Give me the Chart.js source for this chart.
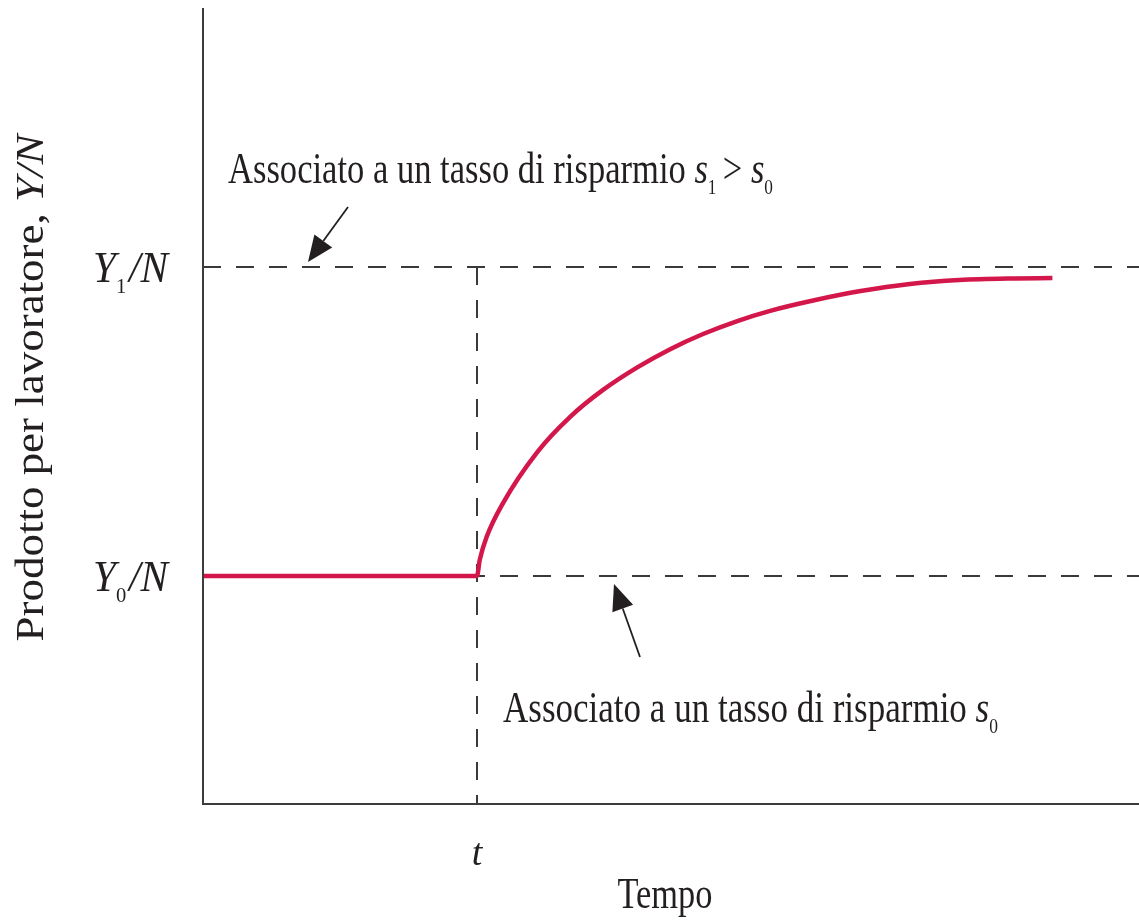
<!DOCTYPE html>
<html>
<head>
<meta charset="utf-8">
<script src="https://cdn.jsdelivr.net/npm/chart.js@4.4.1/dist/chart.umd.min.js"></script>
<style>
  html, body { margin: 0; padding: 0; background: #fff; }
  #wrap { width: 1139px; height: 920px; position: relative; }
</style>
</head>
<body>
<div id="wrap"><canvas id="c"></canvas></div>
<script>
// time axis, the saving rate rises at t = 10
const timeRange = [0, 34.16];
const outputRange = [-0.738, 1.838];
const tShift = 10;
const levelY0 = 0;
const levelY1 = 1;

// output per worker: flat at Y0/N, then converging towards Y1/N
const pathTime = [0, 10, 10.1, 10.35, 10.95, 12.2, 13.4, 14.6, 15.85, 17.05, 18.25, 19.5, 20.7, 22.35, 24, 25.8, 27.6, 29.45, 31];
const pathOutput = [0, 0, 0.052, 0.126, 0.236, 0.401, 0.515, 0.602, 0.675, 0.734, 0.783, 0.825, 0.858, 0.893, 0.922, 0.945, 0.958, 0.963, 0.964];

const levelLabels = [
  { value: levelY1, sub: "1" },
  { value: levelY0, sub: "0" },
];

const INK = "#231f20";
const DASH = "#3a3a3a";
const RED = "#d3174b";
const SERIF = "'Liberation Serif', 'DejaVu Serif', serif";

const curve = pathTime.map((x, i) => ({ x, y: pathOutput[i] }));

// draws a run of text pieces (with optional subscripts); width squeezes it to a set length
function drawRuns(ctx, runs, x, y, align, width) {
  ctx.save();
  let total = 0;
  runs.forEach(r => { ctx.font = r.font; total += ctx.measureText(r.text).width + (r.gap || 0); });
  const sq = width ? width / total : 1;
  ctx.translate(x, y);
  ctx.scale(sq, 1);
  let cx = align === "right" ? -total : align === "center" ? -total / 2 : 0;
  ctx.textBaseline = "alphabetic";
  ctx.textAlign = "left";
  runs.forEach(r => {
    ctx.font = r.font;
    ctx.fillText(r.text, cx, r.dy || 0);
    cx += ctx.measureText(r.text).width + (r.gap || 0);
  });
  ctx.restore();
}

function arrow(ctx, x1, y1, x2, y2) {
  const a = Math.atan2(y2 - y1, x2 - x1);
  const len = 26, half = 11;
  const bx = x2 - len * Math.cos(a), by = y2 - len * Math.sin(a);
  ctx.save();
  ctx.strokeStyle = INK;
  ctx.fillStyle = INK;
  ctx.lineWidth = 1.8;
  ctx.beginPath();
  ctx.moveTo(x1, y1);
  ctx.lineTo(bx, by);
  ctx.stroke();
  ctx.beginPath();
  ctx.moveTo(x2, y2);
  ctx.lineTo(bx + half * Math.sin(a), by - half * Math.cos(a));
  ctx.lineTo(bx - half * Math.sin(a), by + half * Math.cos(a));
  ctx.closePath();
  ctx.fill();
  ctx.restore();
}

const decorations = {
  id: "decorations",
  afterDatasetsDraw(chart) {
    const { ctx, chartArea: a, scales: { x, y } } = chart;
    const reg = "44px " + SERIF;
    const ital = "italic 44px " + SERIF;
    const sub = "22px " + SERIF;

    // axes
    ctx.save();
    ctx.strokeStyle = "#3c3c3c";
    ctx.lineWidth = 2;
    ctx.beginPath();
    ctx.moveTo(a.left, a.top);
    ctx.lineTo(a.left, a.bottom);
    ctx.lineTo(a.right, a.bottom);
    ctx.stroke();
    ctx.restore();

    ctx.fillStyle = INK;

    // level labels on the vertical axis
    levelLabels.forEach(l => {
      const py = y.getPixelForValue(l.value) + 15;
      drawRuns(ctx, [
        { text: "Y", font: ital },
        { text: l.sub, font: sub, dy: 11, gap: 3 },
        { text: "/N", font: ital },
      ], a.left - 35, py, "right", 75);
    });

    // time tick label and axis titles
    drawRuns(ctx, [{ text: "t", font: "italic 38px " + SERIF }], x.getPixelForValue(tShift), 865, "center");
    drawRuns(ctx, [{ text: "Tempo", font: reg }], 665, 908, "center", 95);

    ctx.save();
    ctx.translate(43, 388);
    ctx.rotate(-Math.PI / 2);
    drawRuns(ctx, [
      { text: "Prodotto per lavoratore, ", font: "40px " + SERIF },
      { text: "Y/N", font: "italic 40px " + SERIF },
    ], 0, 0, "center", 507);
    ctx.restore();

    // annotations
    drawRuns(ctx, [
      { text: "Associato a un tasso di risparmio ", font: reg },
      { text: "s", font: ital },
      { text: "1", font: sub, dy: 11, gap: 8 },
      { text: "> ", font: reg },
      { text: "s", font: ital },
      { text: "0", font: sub, dy: 11 },
    ], 228, 183, "left", 545);
    arrow(ctx, 348, 207, 308, 262);

    drawRuns(ctx, [
      { text: "Associato a un tasso di risparmio ", font: reg },
      { text: "s", font: ital },
      { text: "0", font: sub, dy: 11 },
    ], 503, 722, "left", 495);
    arrow(ctx, 640, 657, 614, 584);
  }
};

const dashed = { borderColor: DASH, borderWidth: 2, borderDash: [18, 15], pointRadius: 0 };

new Chart(document.getElementById("c"), {
  type: "line",
  data: {
    datasets: [
      {
        data: curve,
        borderColor: RED, borderWidth: 4.5, pointRadius: 0,
        cubicInterpolationMode: "monotone",
      },
      { ...dashed, data: [{ x: timeRange[0], y: levelY1 }, { x: timeRange[1], y: levelY1 }] },
      { ...dashed, data: [{ x: timeRange[0], y: levelY0 }, { x: timeRange[1], y: levelY0 }] },
      { ...dashed, data: [{ x: tShift, y: levelY1 }, { x: tShift, y: outputRange[0] }] },
    ],
  },
  options: {
    responsive: true,
    maintainAspectRatio: false,
    animation: false,
    layout: { padding: { left: 203, right: 0, top: 8, bottom: 116 } },
    plugins: { legend: { display: false }, tooltip: { enabled: false } },
    scales: {
      x: { type: "linear", min: timeRange[0], max: timeRange[1], display: false },
      y: { type: "linear", min: outputRange[0], max: outputRange[1], display: false },
    },
  },
  plugins: [decorations],
});
</script>
</body>
</html>
